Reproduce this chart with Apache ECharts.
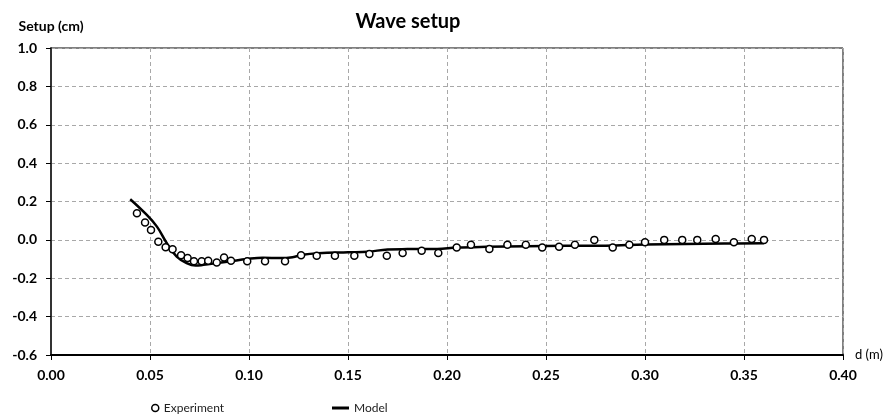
<!DOCTYPE html>
<html>
<head>
<meta charset="utf-8">
<script src="https://cdn.jsdelivr.net/npm/echarts@6/dist/echarts.min.js"></script>
<style>
  html, body { margin: 0; padding: 0; background: #fff; }
  #chart { width: 892px; height: 416px; }
</style>
</head>
<body>
<div id="chart"></div>
<script>
// Measured wave setup: distance d (m) and setup (cm)
const expD = [0.0434, 0.0475, 0.0505, 0.0542, 0.0579, 0.0614, 0.0657, 0.0690, 0.0722, 0.0761, 0.0794, 0.0837, 0.0874, 0.0909, 0.0991,
  0.1081, 0.1182, 0.1263, 0.1342, 0.1434, 0.1532, 0.1608, 0.1696, 0.1776, 0.1872, 0.1956, 0.2049, 0.2121, 0.2214, 0.2305,
  0.2398, 0.2481, 0.2566, 0.2646, 0.2744, 0.2837, 0.2921, 0.3000, 0.3097, 0.3188, 0.3264, 0.3357, 0.3449, 0.3539, 0.3601];
const expSetup = [0.139, 0.091, 0.052, -0.010, -0.038, -0.049, -0.080, -0.094, -0.111, -0.111, -0.109, -0.118, -0.092, -0.109, -0.111,
  -0.111, -0.111, -0.080, -0.083, -0.083, -0.083, -0.074, -0.083, -0.069, -0.057, -0.069, -0.040, -0.026, -0.048, -0.026,
  -0.026, -0.040, -0.036, -0.026, 0.000, -0.040, -0.026, -0.012, 0.000, 0.000, 0.000, 0.005, -0.012, 0.005, 0.000];

// Model prediction
const modelD = [0.040, 0.0475, 0.0535, 0.0585, 0.0635, 0.0685, 0.073, 0.077, 0.084, 0.090, 0.099, 0.107, 0.116, 0.122,
  0.127, 0.135, 0.150, 0.160, 0.170, 0.180, 0.195, 0.205, 0.220, 0.240, 0.260, 0.280, 0.300, 0.320, 0.340, 0.360];
const modelSetup = [0.212, 0.139, 0.069, -0.017, -0.087, -0.121, -0.134, -0.130, -0.121, -0.113, -0.100, -0.093, -0.095, -0.090,
  -0.078, -0.070, -0.065, -0.062, -0.050, -0.048, -0.047, -0.040, -0.036, -0.033, -0.031, -0.030, -0.024, -0.021, -0.019, -0.017];

const FONT = 'Lato';
const legendText = { fontFamily: FONT, fontSize: 12, color: '#222' };

const chart = echarts.init(document.getElementById('chart'));
chart.setOption({
  animation: false,
  backgroundColor: '#fff',
  title: {
    text: 'Wave setup',
    left: 403, top: 7, textAlign: 'center',
    textStyle: { fontFamily: FONT, fontSize: 20, fontWeight: 'bold', color: '#000' }
  },
  legend: [
    {
      left: 146, top: 397, itemWidth: 7, itemHeight: 7, itemGap: 8,
      textStyle: legendText,
      data: [{ name: 'Experiment', icon: 'circle', itemStyle: { borderColor: '#000', borderWidth: 1.5, color: '#fff' } }]
    },
    {
      left: 327, top: 397, itemWidth: 17, itemHeight: 3,
      textStyle: legendText,
      data: [{ name: 'Model', icon: 'rect', itemStyle: { color: '#000' } }]
    }
  ],
  grid: {
    left: 51, right: 49, top: 48, bottom: 61,
    show: true, borderColor: '#000', borderWidth: 1
  },
  xAxis: {
    type: 'value', min: 0, max: 0.4, interval: 0.05,
    name: 'd (m)', nameLocation: 'end', nameGap: 12,
    nameTextStyle: { fontFamily: FONT, fontSize: 13, color: '#000' },
    axisLine: { onZero: false, lineStyle: { color: '#000', width: 2 } },
    axisTick: { show: true, length: 5, lineStyle: { color: '#000' } },
    axisLabel: { margin: 13, fontFamily: FONT, fontSize: 14, fontWeight: 'bold', color: '#000',
      formatter: v => v.toFixed(2) },
    splitLine: { show: true, lineStyle: { type: [4, 3], color: '#a8a8a8' } }
  },
  yAxis: {
    type: 'value', min: -0.6, max: 1.0, interval: 0.2,
    name: 'Setup (cm)', nameLocation: 'end', nameGap: 15,
    nameTextStyle: { fontFamily: FONT, fontSize: 14, fontWeight: 'bold', color: '#000' },
    axisLine: { show: true, onZero: false, lineStyle: { color: '#333', width: 2 } },
    axisTick: { show: true, length: 5, lineStyle: { color: '#000' } },
    axisLabel: { margin: 14, fontFamily: FONT, fontSize: 14, fontWeight: 'bold', color: '#000',
      formatter: v => v.toFixed(1) },
    splitLine: { show: true, lineStyle: { type: [4, 3], color: '#a8a8a8' } }
  },
  series: [
    {
      name: 'Model', type: 'line', smooth: 0.4, showSymbol: false, symbol: 'none',
      data: modelD.map((d, i) => [d, modelSetup[i]]),
      lineStyle: { color: '#000', width: 2.5 },
      itemStyle: { color: '#000' },
      z: 2
    },
    {
      name: 'Experiment', type: 'scatter', symbol: 'circle', symbolSize: 7,
      data: expD.map((d, i) => [d, expSetup[i]]),
      itemStyle: { color: '#fff', borderColor: '#000', borderWidth: 1.5, opacity: 1 },
      z: 3
    }
  ]
});
</script>
</body>
</html>
